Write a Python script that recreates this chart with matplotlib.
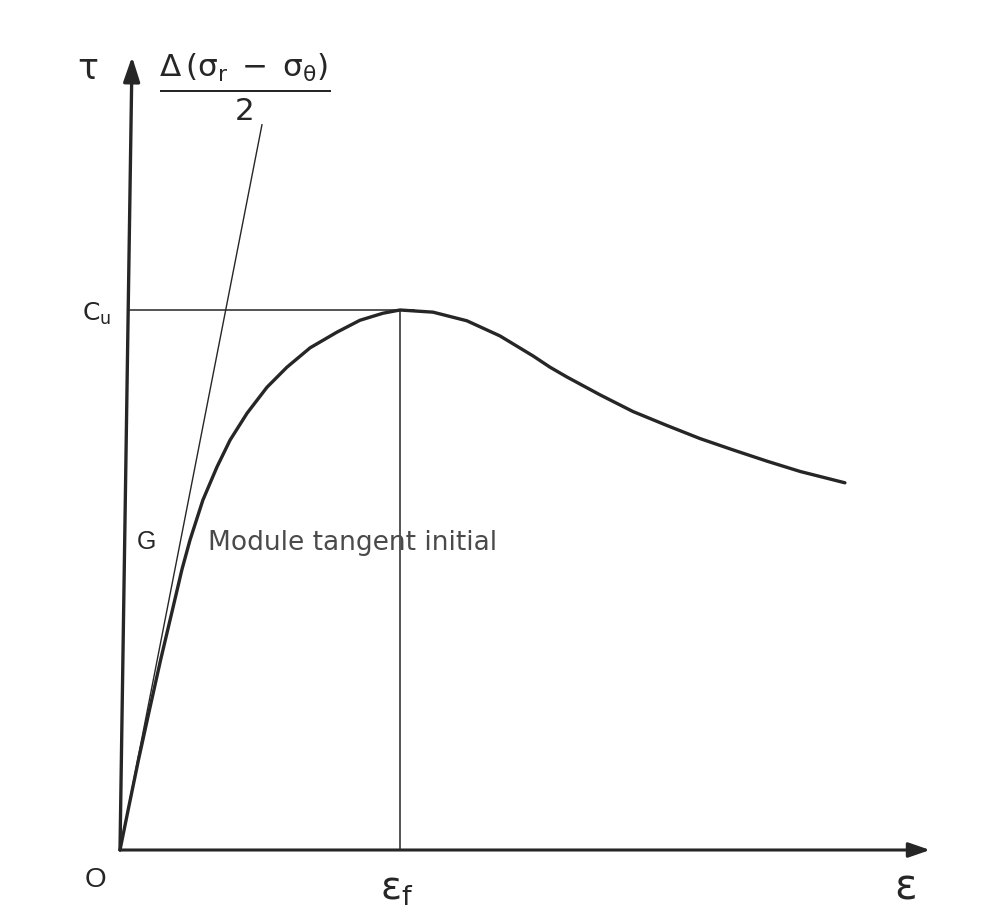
import matplotlib
matplotlib.use('Agg')
import matplotlib.pyplot as plt

plt.rcParams['font.family'] = ['Liberation Sans', 'DejaVu Sans']
plt.rcParams['mathtext.fontset'] = 'dejavusans'

# Courbe contrainte-déformation (unités réduites : eps/eps_f, tau/c_u)
deformation = [0.0, 0.029, 0.066, 0.105, 0.145, 0.187, 0.221, 0.250, 0.296, 0.346,
               0.393, 0.454, 0.525, 0.596, 0.679, 0.775, 0.857, 0.939, 1.000,
               1.118, 1.239, 1.357, 1.475, 1.536, 1.596, 1.714, 1.832, 1.954,
               2.071, 2.189, 2.311, 2.429, 2.589]
cisaillement = [0.0, 0.074, 0.167, 0.259, 0.352, 0.444, 0.519, 0.574, 0.648, 0.709,
                0.759, 0.809, 0.857, 0.894, 0.930, 0.959, 0.981, 0.994, 1.000,
                0.996, 0.980, 0.952, 0.915, 0.894, 0.876, 0.843, 0.812, 0.786,
                0.762, 0.741, 0.720, 0.701, 0.680]

eps_f = 1.0        # déformation à la rupture
c_u = 1.0          # cohésion non drainée
tangente = [0.507, 1.343]   # extrémité de la droite du module tangent initial
axe_x_fin = 2.893
axe_y_fin = [0.043, 1.469]

encre = '#262626'

fig = plt.figure(figsize=(9.95, 9.15), dpi=100, facecolor='white')
ax = fig.add_axes([0, 0, 1, 1])
ax.set_xlim(-120 / 280, 875 / 280)
ax.set_ylim(-65 / 540, 850 / 540)
ax.axis('off')

# axes avec flèches
ax.annotate('', xy=(axe_x_fin, 0), xytext=(0, 0),
            arrowprops=dict(arrowstyle='-|>,head_length=1.3,head_width=0.45',
                            color=encre, lw=2.2, shrinkA=0, shrinkB=0))
ax.annotate('', xy=tuple(axe_y_fin), xytext=(0, 0),
            arrowprops=dict(arrowstyle='-|>,head_length=1.5,head_width=0.5',
                            color=encre, lw=2.4, shrinkA=0, shrinkB=0))

# repères c_u et eps_f
ax.plot([axe_y_fin[0] * c_u / axe_y_fin[1], eps_f + 0.05], [c_u, c_u], color=encre, lw=1.1)
ax.plot([eps_f, eps_f], [0, c_u], color=encre, lw=1.1)

# module tangent initial
ax.plot([0, tangente[0]], [0, tangente[1]], color=encre, lw=1.0)

# courbe
ax.plot(deformation, cisaillement, color=encre, lw=2.4,
        solid_capstyle='round', solid_joinstyle='round')

# textes
ax.text(-0.114, 1.446, 'τ', fontsize=25, color=encre, ha='center', va='center',
        family='DejaVu Sans')
ax.text(0.446, 1.412, r'$\frac{\Delta\,(\mathrm{σ_r}\;-\;\mathrm{σ_θ})}{2}$',
        fontsize=32, color=encre, ha='center', va='center')
ax.text(-0.084, c_u - 0.008, r'$\mathrm{C_u}$', fontsize=18, color=encre,
        ha='center', va='center')
ax.text(0.093, 0.570, 'G', fontsize=18, color=encre, ha='center', va='center')
ax.text(0.314, 0.569, 'Module tangent initial', fontsize=19, color='#4a4a4a',
        ha='left', va='center', family='DejaVu Sans')
ax.text(-0.086, -0.056, 'O', fontsize=20, color=encre, ha='center', va='center')
ax.text(eps_f - 0.01, -0.074, r'$\mathrm{\varepsilon_f}$', fontsize=28, color=encre,
        ha='center', va='center')
ax.text(2.804, -0.069, r'$\mathrm{\varepsilon}$', fontsize=30, color=encre,
        ha='center', va='center')

fig.savefig('out.png', dpi=100, facecolor='white')
